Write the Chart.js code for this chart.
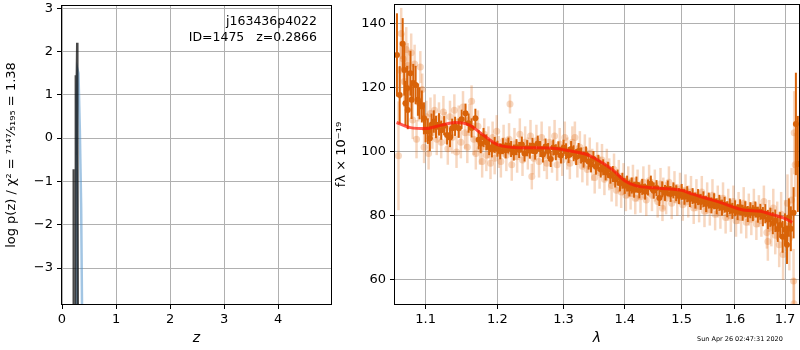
<!DOCTYPE html>
<html>
<head>
<meta charset="utf-8">
<script src="https://cdn.jsdelivr.net/npm/chart.js@4.4.0/dist/chart.umd.min.js"></script>
<style>
    body { margin: 0; background: #fff; width: 800px; height: 350px; position: relative; overflow: hidden; font-family: "DejaVu Sans", sans-serif; }
    canvas { position: absolute; top: 0; }
    #pz { left: 0; }
    #spec { left: 330px; }
    .note { position: absolute; color: #000; white-space: pre; }
    #label { right: 483px; top: 13px; font-size: 12.5px; line-height: 16px; text-align: right; }
    #stamp { left: 697px; top: 335px; font-size: 6.5px; }
</style>
</head>
<body>
<canvas id="pz" width="340" height="350"></canvas>
<canvas id="spec" width="470" height="350"></canvas>
<div class="note" id="label">j163436p4022
ID=1475   z=0.2866</div>
<div class="note" id="stamp">Sun Apr 26 02:47:31 2020</div>

<script>
// left panel: log p(z)
const pzDarkZ = [0.205, 0.210, 0.216, 0.246, 0.252, 0.262, 0.278, 0.288, 0.300];
const pzDarkLogP = [-6, -0.72, -6, -6, 1.45, 0.6, 2.2, 0.4, -6];
const pzBlueZ = [0.262, 0.272, 0.290, 0.305, 0.330, 0.355, 0.385];
const pzBlueLogP = [-6, 1.0, 1.57, 1.5, 0.2, -1.6, -6];
const zTicks = [0, 1, 2, 3, 4];
const pzTicks = [-3, -2, -1, 0, 1, 2, 3];

// right panel: spectrum
const darkWave = [
    1.0625, 1.0660, 1.0699, 1.0720, 1.0735, 1.0757, 1.0765, 1.0800, 1.0815, 1.0837,
    1.0868, 1.0898, 1.0920, 1.0950, 1.0978, 1.1000, 1.1030, 1.1057, 1.1080, 1.1110,
    1.1140, 1.1180, 1.1210, 1.1250, 1.1290, 1.1330, 1.1360, 1.1400, 1.1450, 1.1490,
    1.1545, 1.1588, 1.1630, 1.1684, 1.1730, 1.1760, 1.1800, 1.184, 1.188, 1.192,
    1.196, 1.200, 1.204, 1.208, 1.212, 1.216, 1.220, 1.224, 1.228, 1.232,
    1.236, 1.240, 1.244, 1.248, 1.252, 1.256, 1.260, 1.264, 1.268, 1.272,
    1.276, 1.280, 1.284, 1.288, 1.292, 1.296, 1.300, 1.304, 1.308, 1.312,
    1.316, 1.320, 1.324, 1.328, 1.332, 1.336, 1.340, 1.344, 1.348, 1.352,
    1.356, 1.360, 1.364, 1.368, 1.372, 1.376, 1.380, 1.384, 1.388, 1.392,
    1.396, 1.400, 1.404, 1.408, 1.412, 1.416, 1.420, 1.425, 1.430, 1.435,
    1.440, 1.445, 1.450, 1.455, 1.460, 1.465, 1.470, 1.475, 1.480, 1.485,
    1.490, 1.495, 1.500, 1.505, 1.510, 1.515, 1.520, 1.525, 1.530, 1.535,
    1.540, 1.545, 1.550, 1.555, 1.560, 1.565, 1.570, 1.575, 1.580, 1.585,
    1.590, 1.595, 1.600, 1.605, 1.610, 1.615, 1.620, 1.625, 1.630, 1.635,
    1.640, 1.645, 1.650, 1.655, 1.660, 1.665, 1.670, 1.675, 1.680, 1.685,
    1.690, 1.695, 1.700, 1.704, 1.708, 1.712, 1.7177, 1.7225, 1.7265
];
const darkFlux = [
    130.3, 117.8, 133.8, 125.6, 115.2, 119.9, 113.1, 124.6, 116.3, 121.5,
    120.9, 116.3, 115.2, 114.2, 110.5, 107.0, 106.5, 104.3, 108.5, 109.5,
    107.8, 108.6, 106.8, 108.2, 105.3, 104.5, 107.4, 108.0, 107.4, 110.2,
    112.1, 109.0, 107.5, 110.5, 103.8, 102.6, 104.5, 103.0, 101.5, 100.8,
    102.2, 101.0, 100.2, 101.8, 100.5, 102.0, 100.9, 99.8, 101.5, 100.6,
    102.3, 99.5, 101.2, 100.4, 101.9, 100.1, 102.6, 100.9, 99.2, 101.7,
    100.3, 97.8, 101.4, 99.9, 100.8, 98.9, 101.3, 100.2, 99.0, 100.9,
    99.6, 98.4, 100.3, 98.9, 97.6, 99.2, 97.0, 96.1, 97.8, 95.4,
    96.6, 94.5, 95.2, 93.6, 94.4, 92.6, 93.1, 91.4, 92.0, 90.2,
    91.0, 89.4, 90.1, 88.6, 89.5, 88.2, 89.8, 88.0, 89.1, 87.6,
    88.9, 90.1, 87.9, 88.7, 85.6, 88.3, 87.2, 88.6, 86.9, 88.0,
    87.1, 86.2, 87.5, 86.0, 86.8, 85.3, 86.2, 84.8, 85.9, 84.4,
    85.2, 83.7, 84.8, 83.3, 84.6, 83.0, 84.1, 82.6, 83.5, 82.1,
    83.0, 81.6, 82.4, 81.2, 82.7, 81.0, 82.1, 80.6, 81.8, 80.9,
    82.0, 80.4, 81.3, 79.8, 80.7, 78.9, 79.6, 77.8, 78.5, 75.9,
    77.2, 73.5, 75.8, 71.0, 79.5, 76.0, 81.0, 108.75, 96.25
];
const darkErr = [
    13, 9, 8, 8, 7, 7, 6, 7, 6, 6,
    6, 5, 5, 5, 5, 4, 4, 4, 3.5, 3.5,
    3.5, 3.5, 3, 3, 3, 3, 3, 3, 3, 3,
    3, 3, 3, 3, 3, 3, 3, 2.5, 2.5, 2.5,
    2.5, 2.5, 2.5, 2.5, 2.5, 2.5, 2.5, 2.5, 2.5, 2.5,
    2.5, 2.5, 2.5, 2.5, 2.5, 2.5, 2.5, 2.5, 2.5, 2.5,
    2.5, 2.5, 2.5, 2.5, 2.5, 2.5, 2.5, 2.5, 2.5, 2.5,
    2.5, 2.5, 2.5, 2.5, 2.5, 2.5, 2.5, 2.5, 2.5, 2.5,
    2.5, 2.5, 2.5, 2.5, 2.5, 2.5, 2.5, 2.5, 2.5, 2.5,
    2.5, 2.5, 2.5, 2.5, 2.5, 2.5, 2.5, 2.5, 2.5, 2.5,
    2.5, 2.5, 2.5, 2.5, 2.5, 2.5, 2.5, 2.5, 2.5, 2.5,
    2.5, 2.5, 2.5, 2.5, 2.5, 2.5, 2.5, 2.5, 2.5, 2.5,
    2.5, 2.5, 2.5, 2.5, 2.5, 2.5, 2.5, 2.5, 2.5, 2.5,
    2.5, 2.5, 2.5, 2.5, 2.5, 2.5, 2.5, 2.5, 2.5, 2.5,
    2.5, 2.5, 2.5, 3, 3, 3, 3, 3.5, 3.5, 4,
    4, 5, 5, 6, 6, 7, 8, 16, 15
];

const lightWave = [
    1.0645, 1.0665, 1.0680, 1.0705, 1.0720, 1.0745, 1.0765, 1.0785, 1.0810, 1.0830,
    1.0855, 1.0880, 1.0905, 1.0930, 1.0955, 1.0980, 1.1010, 1.1040, 1.1065, 1.1090,
    1.112, 1.115, 1.118, 1.121, 1.124, 1.127, 1.130, 1.133, 1.136, 1.139,
    1.142, 1.145, 1.148, 1.151, 1.154, 1.157, 1.160, 1.163, 1.166, 1.169,
    1.172, 1.175, 1.178, 1.181, 1.184, 1.187, 1.190, 1.193, 1.196, 1.199,
    1.202, 1.205, 1.209, 1.213, 1.217, 1.2184, 1.221, 1.225, 1.229, 1.233,
    1.237, 1.241, 1.245, 1.249, 1.251, 1.254, 1.258, 1.262, 1.266, 1.270,
    1.274, 1.278, 1.282, 1.286, 1.290, 1.294, 1.298, 1.302, 1.306, 1.310,
    1.314, 1.318, 1.322, 1.326, 1.330, 1.334, 1.338, 1.342, 1.346, 1.350,
    1.354, 1.358, 1.362, 1.366, 1.370, 1.374, 1.378, 1.382, 1.386, 1.390,
    1.394, 1.398, 1.402, 1.406, 1.410, 1.414, 1.418, 1.422, 1.427, 1.432,
    1.437, 1.442, 1.447, 1.452, 1.457, 1.462, 1.4655, 1.467, 1.472, 1.477,
    1.482, 1.487, 1.492, 1.497, 1.502, 1.507, 1.512, 1.517, 1.522, 1.527,
    1.532, 1.537, 1.542, 1.547, 1.552, 1.557, 1.562, 1.567, 1.572, 1.577,
    1.582, 1.587, 1.592, 1.597, 1.602, 1.607, 1.612, 1.617, 1.622, 1.627,
    1.632, 1.637, 1.642, 1.647, 1.652, 1.657, 1.663, 1.665, 1.668, 1.672,
    1.676, 1.680, 1.684, 1.688, 1.692, 1.696, 1.700, 1.705, 1.709, 1.7135,
    1.7177, 1.7185, 1.719, 1.721
];
const lightFlux = [
    98.8, 125.5, 137.0, 129.0, 122.0, 132.0, 127.0, 120.0, 131.0, 110.0,
    127.5, 104.0, 115.5, 126.5, 119.5, 101.5, 111.0, 99.5, 112.0, 106.0,
    113.0, 104.0, 110.5, 103.0, 112.5, 107.5, 101.0, 111.0, 104.5, 113.0,
    100.0, 109.5, 103.0, 114.0, 106.0, 101.5, 110.0, 115.8, 104.0, 99.5,
    108.0, 101.0, 97.0, 105.5, 99.0, 103.0, 96.5, 104.5, 98.0, 106.5,
    100.0, 97.0, 103.5, 99.0, 104.0, 115.0, 96.0, 102.5, 98.5, 105.5,
    97.5, 103.0, 99.5, 105.0, 92.3, 98.0, 103.5, 97.0, 104.5, 99.0,
    96.5, 103.0, 98.5, 105.0, 96.0, 102.5, 97.5, 104.5, 99.5, 96.5,
    103.0, 104.5, 97.0, 101.5, 95.5, 100.5, 94.5, 99.5, 96.0, 92.0,
    98.0, 93.5, 97.5, 91.5, 96.0, 93.0, 89.5, 94.5, 88.0, 92.5,
    87.5, 91.5, 86.5, 90.5, 87.0, 91.0, 85.5, 89.5, 86.0, 90.5,
    85.0, 91.0, 86.5, 89.5, 84.5, 90.0, 82.4, 87.0, 85.5, 90.5,
    84.0, 89.0, 85.0, 88.5, 83.5, 88.0, 84.5, 87.5, 82.5, 86.5,
    83.0, 87.5, 81.5, 85.5, 82.0, 86.5, 80.5, 84.5, 81.0, 85.5,
    79.5, 83.5, 80.0, 84.5, 78.5, 82.5, 79.5, 84.0, 78.0, 82.0,
    79.0, 83.5, 77.5, 81.5, 78.5, 84.5, 74.8, 72.0, 80.0, 76.5,
    82.5, 74.0, 78.5, 71.0, 80.5, 68.0, 77.0, 84.0, 73.0, 85.0,
    59.7, 52.6, 106.0, 96.0
];
const lightErr = [
    17, 9, 8, 8, 8, 7, 7, 7, 6, 6,
    6, 6, 6, 5, 5, 5, 5, 5, 5, 5,
    5, 5, 5, 5, 5, 5, 5, 5, 5, 5,
    5, 5, 5, 5, 5, 5, 5, 5, 5, 5,
    5, 5, 5, 5, 5, 5, 5, 5, 5, 5,
    5, 5, 5, 5, 5, 3, 5, 5, 5, 5,
    5, 5, 5, 5, 4, 5, 5, 5, 5, 5,
    5, 5, 5, 5, 5, 5, 5, 5, 5, 5,
    5, 5, 5, 5, 5, 5, 5, 5, 5, 5,
    5, 5, 5, 5, 5, 5, 5, 5, 5, 5,
    5, 5, 5, 5, 5, 5, 5, 5, 5, 5,
    5, 5, 5, 5, 5, 5, 4, 5, 5, 5,
    5, 5, 5, 5, 5, 5, 5, 5, 5, 5,
    5, 5, 5, 5, 5, 5, 5, 5, 5, 5,
    5, 5, 5, 5, 5, 5, 5, 5, 5, 5,
    5, 5, 5, 5, 5, 5, 5, 6, 5, 6,
    6, 6, 6, 7, 7, 8, 8, 9, 10, 10,
    10, 8, 13, 10
];

const modelWave = [1.062, 1.08, 1.10, 1.12, 1.14, 1.16, 1.18, 1.20, 1.22, 1.25,
    1.28, 1.30, 1.32, 1.34, 1.36, 1.38, 1.40, 1.42, 1.45, 1.48,
    1.50, 1.52, 1.55, 1.58, 1.60, 1.62, 1.65, 1.67, 1.70, 1.715];
const modelFlux = [109.2, 107.6, 107.3, 108.3, 109.2, 108.4, 105.2, 102.3, 101.5, 101.3,
    101.2, 100.7, 100.0, 99.0, 96.9, 94.4, 91.0, 89.4, 88.8, 88.4,
    88.0, 86.8, 85.3, 83.8, 82.6, 81.8, 81.5, 80.6, 79.2, 78.0];

const waveTicks = [1.1, 1.2, 1.3, 1.4, 1.5, 1.6, 1.7];
const fluxTicks = [60, 80, 100, 120, 140];

const ORANGE = "rgb(216, 98, 8)";
const ORANGE_LIGHT = "rgba(226, 110, 30, 0.28)";

Chart.defaults.font.family = "DejaVu Sans";
Chart.defaults.font.size = 13;
Chart.defaults.color = "#000";

function pairs(xs, ys) {
    return xs.map((x, i) => ({ x: x, y: ys[i] }));
}

function minus(v) {
    return String(v).replace("-", "\u2212");
}

// fixed axis box, no extra room for overhanging labels
function fixSize(prop, size) {
    return s => {
        s[prop] = size;
        s.paddingTop = 0;
        s.paddingBottom = 0;
        s.paddingLeft = 0;
        s.paddingRight = 0;
    };
}

// vertical error bars, drawn under each dataset's markers
const errorBars = {
    id: "errorBars",
    beforeDatasetDraw(chart, args) {
        const ds = chart.data.datasets[args.index];
        if (!ds.errors) return;
        const { ctx, chartArea: a } = chart;
        const xs = chart.scales.x, ys = chart.scales.y;
        ctx.save();
        ctx.beginPath();
        ctx.rect(a.left, a.top, a.right - a.left, a.bottom - a.top);
        ctx.clip();
        ctx.strokeStyle = ds.errorColor;
        ctx.lineWidth = ds.errorWidth;
        ds.data.forEach((p, i) => {
            const px = xs.getPixelForValue(p.x);
            ctx.beginPath();
            ctx.moveTo(px, ys.getPixelForValue(p.y - ds.errors[i]));
            ctx.lineTo(px, ys.getPixelForValue(p.y + ds.errors[i]));
            ctx.stroke();
        });
        ctx.restore();
    }
};

// black box around the plot area
const frame = {
    id: "frame",
    afterDatasetsDraw(chart) {
        const { ctx, chartArea: a } = chart;
        ctx.save();
        ctx.strokeStyle = "#000";
        ctx.lineWidth = 1;
        ctx.strokeRect(Math.round(a.left) - 0.5, Math.round(a.top) - 0.5,
            Math.round(a.right - a.left) + 1, Math.round(a.bottom - a.top) + 1);
        ctx.restore();
    }
};

function axisGrid() {
    return { color: "#b0b0b0", lineWidth: 1, tickColor: "#000", tickLength: 5 };
}

new Chart(document.getElementById("pz"), {
    type: "scatter",
    data: {
        datasets: [
            {
                data: pairs(pzDarkZ, pzDarkLogP),
                showLine: true,
                borderColor: "rgba(0,0,0,0.72)",
                borderWidth: 2,
                pointRadius: 0,
                order: 0
            },
            {
                data: pairs(pzBlueZ, pzBlueLogP),
                showLine: true,
                borderColor: "rgba(70,140,200,0.5)",
                borderWidth: 2.5,
                pointRadius: 0,
                order: 1
            }
        ]
    },
    options: {
        responsive: false,
        animation: false,
        devicePixelRatio: 1,
        layout: { autoPadding: false, padding: { top: 6, right: 9, left: 0, bottom: 0 } },
        plugins: { legend: { display: false }, tooltip: { enabled: false } },
        scales: {
            x: {
                type: "linear",
                min: 0,
                max: 4.98,
                grid: axisGrid(),
                border: { display: false },
                afterBuildTicks: s => { s.ticks = zTicks.map(v => ({ value: v })); },
                afterFit: fixSize("height", 46),
                ticks: { padding: 3, maxRotation: 0, autoSkip: false, callback: v => minus(v) },
                title: { display: true, text: "z", font: { size: 14, style: "italic" }, padding: { top: 0, bottom: 3 } }
            },
            y: {
                type: "linear",
                min: -3.83,
                max: 3.05,
                grid: axisGrid(),
                border: { display: false },
                afterBuildTicks: s => { s.ticks = pzTicks.map(v => ({ value: v })); },
                afterFit: fixSize("width", 62),
                ticks: { padding: 4, autoSkip: false, callback: v => minus(v) },
                title: {
                    display: true,
                    text: "log p(z) / \u03c7\u00b2 = \u2077\u00b9\u2074\u2077\u2044\u2085\u2081\u2089\u2085 = 1.38",
                    font: { size: 13 },
                    padding: { top: 4, bottom: 0 }
                }
            }
        }
    },
    plugins: [frame]
});

new Chart(document.getElementById("spec"), {
    type: "scatter",
    data: {
        datasets: [
            {
                data: pairs(modelWave, modelFlux),
                showLine: true,
                borderColor: "rgba(255,20,10,0.7)",
                borderWidth: 3,
                pointRadius: 0,
                cubicInterpolationMode: "monotone",
                order: 0
            },
            {
                data: pairs(darkWave, darkFlux),
                errors: darkErr,
                errorColor: ORANGE,
                errorWidth: 2,
                backgroundColor: ORANGE,
                borderWidth: 0,
                pointRadius: 3,
                order: 1
            },
            {
                data: pairs(lightWave, lightFlux),
                errors: lightErr,
                errorColor: ORANGE_LIGHT,
                errorWidth: 2.5,
                backgroundColor: ORANGE_LIGHT,
                borderWidth: 0,
                pointRadius: 3.5,
                order: 2
            }
        ]
    },
    options: {
        responsive: false,
        animation: false,
        devicePixelRatio: 1,
        layout: { autoPadding: false, padding: { top: 5, right: 1, left: 0, bottom: 0 } },
        plugins: { legend: { display: false }, tooltip: { enabled: false } },
        scales: {
            x: {
                type: "logarithmic",
                bounds: "data",
                min: 1.06,
                max: 1.729,
                grid: axisGrid(),
                border: { display: false },
                afterBuildTicks: s => { s.ticks = waveTicks.map(v => ({ value: v })); },
                afterFit: fixSize("height", 46),
                ticks: { padding: 3, maxRotation: 0, autoSkip: false, callback: v => Number(v).toFixed(1) },
                title: { display: true, text: "\u03bb", font: { size: 14, style: "italic" }, padding: { top: 0, bottom: 3 } }
            },
            y: {
                type: "linear",
                min: 52.5,
                max: 145.9,
                grid: axisGrid(),
                border: { display: false },
                afterBuildTicks: s => { s.ticks = fluxTicks.map(v => ({ value: v })); },
                afterFit: fixSize("width", 65),
                ticks: { padding: 4, autoSkip: false, callback: v => minus(v) },
                title: {
                    display: true,
                    text: "f\u03bb \u00d7 10\u207b\u00b9\u2079",
                    font: { size: 13 },
                    padding: { top: 4, bottom: 0 }
                }
            }
        }
    },
    plugins: [errorBars, frame]
});
</script>
</body>
</html>
